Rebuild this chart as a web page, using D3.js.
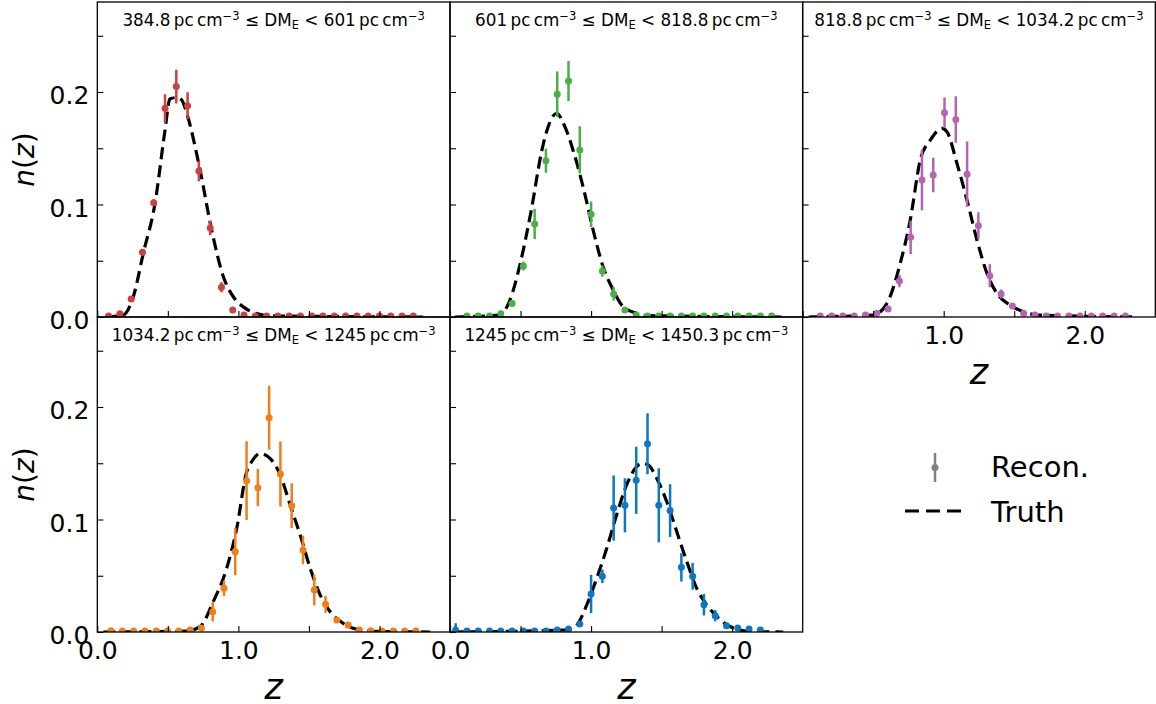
<!DOCTYPE html>
<html>
<head>
<meta charset="utf-8">
<script src="https://cdn.jsdelivr.net/npm/d3@7/dist/d3.min.js"></script>
<style>
  html, body { margin: 0; padding: 0; background: #fff; }
  svg { display: block; font-family: "DejaVu Sans", sans-serif; }
</style>
</head>
<body>
<svg id="chart" width="1156" height="704"></svg>
<script>
// ---- DM_E bin edges (pc cm^-3) for the five panels ----
const binLow  = ["384.8", "601", "818.8", "1034.2", "1245"];
const binHigh = ["601", "818.8", "1034.2", "1245", "1450.3"];
const colors  = ["#c94141", "#4bae48", "#b565ae", "#ef7e1b", "#0b78bf"];

// ---- reconstructed n(z): bin centres, values, 1-sigma errors ----
const zRecon1 = [0.08,0.16,0.24,0.32,0.40,0.48,0.56,0.64,0.72,0.80,0.88,0.96,1.04,1.12,1.20,1.28,1.36,1.44,1.52,1.60,1.68,1.76,1.84,1.92,2.00,2.08,2.16,2.24];
const nRecon1 = [0.001,0.003,0.016,0.0575,0.1016,0.1855,0.2048,0.1878,0.1298,0.0791,0.0264,0.0062,0.0018,0.0008,0.0008,0.0008,0.0008,0.0008,0.0008,0.0008,0.0008,0.0008,0.0008,0.0008,0.0008,0.0008,0.0008,0.0008];
const eRecon1 = [0,0,0.002,0.003,0.003,0.0126,0.015,0.012,0.0092,0.0064,0.0045,0.001,0,0,0,0,0,0,0,0,0,0,0,0,0,0,0,0];

const zRecon2 = [0.12,0.20,0.28,0.36,0.44,0.52,0.60,0.68,0.76,0.84,0.92,1.00,1.08,1.16,1.24,1.32,1.40,1.48,1.56,1.64,1.72,1.80,1.88,1.96,2.04,2.12,2.20,2.28];
const nRecon2 = [0.001,0.001,0.001,0.003,0.0121,0.0453,0.0827,0.139,0.1979,0.2098,0.1485,0.0913,0.0409,0.0205,0.0062,0.0018,0.0008,0.0008,0.0008,0.0008,0.0008,0.0008,0.0008,0.0008,0.0008,0.0008,0.0008,0.0008];
const eRecon2 = [0,0,0,0.001,0.002,0.004,0.0133,0.0108,0.0203,0.0178,0.021,0.0114,0.005,0.006,0.001,0,0,0,0,0,0,0,0,0,0,0,0,0];

const zRecon3 = [0.125,0.205,0.285,0.366,0.446,0.526,0.606,0.686,0.766,0.846,0.926,1.006,1.086,1.166,1.246,1.327,1.407,1.487,1.567,1.647,1.727,1.807,1.887,1.967,2.047,2.127,2.208,2.288];
const nRecon3 = [0.0008,0.0008,0.0008,0.0008,0.0018,0.0033,0.0071,0.032,0.0708,0.1218,0.1262,0.1815,0.1756,0.127,0.0812,0.0367,0.0205,0.0098,0.0033,0.0018,0.0008,0.0008,0.0008,0.0008,0.0008,0.0008,0.0008,0.0008];
const eRecon3 = [0,0,0,0,0,0.001,0.001,0.0055,0.0148,0.027,0.0153,0.0136,0.0207,0.0289,0.012,0.0102,0.004,0.002,0.001,0,0,0,0,0,0,0,0,0];

const zRecon4 = [0.097,0.177,0.258,0.338,0.418,0.498,0.578,0.658,0.738,0.818,0.898,0.978,1.058,1.138,1.218,1.298,1.378,1.458,1.538,1.618,1.698,1.778,1.858,1.938,2.018,2.098,2.178,2.258];
const nRecon4 = [0.0012,0.001,0.001,0.001,0.001,0.001,0.001,0.0018,0.0036,0.018,0.0388,0.0714,0.1345,0.1283,0.1905,0.1404,0.1123,0.0729,0.0373,0.0246,0.0107,0.0062,0.0018,0.0012,0.001,0.001,0.001,0.001];
const eRecon4 = [0,0,0,0,0,0,0,0,0.001,0.0086,0.0067,0.021,0.035,0.0166,0.0284,0.0289,0.02,0.0127,0.0136,0.0075,0.002,0.001,0,0,0,0,0,0];

const zRecon5 = [0.04,0.12,0.20,0.28,0.36,0.44,0.52,0.60,0.68,0.76,0.84,0.92,1.00,1.08,1.16,1.24,1.32,1.40,1.48,1.56,1.64,1.72,1.80,1.88,1.96,2.04,2.12,2.20];
const nRecon5 = [0.0018,0.001,0.001,0.001,0.001,0.001,0.001,0.001,0.001,0.0018,0.0027,0.0071,0.0338,0.0495,0.1102,0.1126,0.1348,0.1674,0.1126,0.1079,0.0575,0.0495,0.0243,0.0145,0.0056,0.0036,0.0027,0.0018];
const eRecon5 = [0.006,0,0,0,0,0,0,0,0,0,0.001,0.002,0.017,0.006,0.029,0.024,0.0298,0.0271,0.0329,0.0234,0.0126,0.0119,0.0096,0.005,0.002,0.001,0,0];

// ---- true n(z) ----
const zTruth1 = [0.055,0.184,0.255,0.326,0.409,0.48,0.515,0.563,0.598,0.634,0.728,0.811,0.893,0.964,1.035,1.13,1.224,2.31];
const nTruth1 = [0,0.0018,0.018,0.0566,0.101,0.166,0.194,0.195,0.193,0.181,0.131,0.077,0.036,0.018,0.009,0.003,0.001,0];
const zTruth2 = [0.035,0.354,0.425,0.496,0.579,0.65,0.685,0.756,0.815,0.874,0.945,1.016,1.087,1.157,1.228,1.323,1.394,2.362];
const nTruth2 = [0,0.0018,0.0151,0.0466,0.097,0.1476,0.165,0.1809,0.169,0.1476,0.115,0.0765,0.044,0.0239,0.0091,0.0033,0.0012,0];
const zTruth3 = [0.043,0.503,0.598,0.692,0.763,0.834,0.905,0.988,1.023,1.094,1.165,1.236,1.307,1.378,1.472,1.566,1.661,2.37];
const nTruth3 = [0,0.0018,0.0121,0.0477,0.0862,0.1396,0.1573,0.1676,0.1647,0.1366,0.104,0.0684,0.0388,0.0209,0.0105,0.0047,0.0018,0];
const zTruth4 = [0.043,0.634,0.728,0.822,0.917,0.988,1.059,1.094,1.153,1.226,1.297,1.368,1.439,1.51,1.581,1.652,1.746,1.841,1.959,2.36];
const nTruth4 = [0,0.0009,0.0047,0.027,0.0566,0.092,0.1425,0.1513,0.1587,0.1542,0.1393,0.1126,0.0859,0.0563,0.0326,0.0178,0.0074,0.0024,0.0006,0];
const zTruth5 = [0.012,0.827,0.898,0.969,1.04,1.111,1.181,1.252,1.323,1.359,1.405,1.465,1.536,1.607,1.678,1.748,1.819,1.89,1.961,2.055,2.15,2.362];
const nTruth5 = [0,0.0018,0.0062,0.024,0.0477,0.0744,0.104,0.1307,0.147,0.15,0.1485,0.1366,0.116,0.0893,0.0627,0.039,0.0243,0.0139,0.0065,0.0018,0.0003,0];

// ---- axis ticks ----
const xTicks = [0, 0.5, 1.0, 1.5, 2.0];
const xTickLabels = ["0.0", "", "1.0", "", "2.0"];
const yTicks = [0, 0.05, 0.10, 0.15, 0.20, 0.25];
const yTickLabels = ["0.0", "", "0.1", "", "0.2", ""];

// ---- panel layout ----
const colX = [97.3, 450, 802.6];
const rowY = [2, 317];
const W = 352.7, H = 315;

const panels = [
  {row: 0, col: 0, z: zRecon1, n: nRecon1, e: eRecon1, zt: zTruth1, nt: nTruth1, yLab: true,  xLab: false, xShow: []},
  {row: 0, col: 1, z: zRecon2, n: nRecon2, e: eRecon2, zt: zTruth2, nt: nTruth2, yLab: false, xLab: false, xShow: []},
  {row: 0, col: 2, z: zRecon3, n: nRecon3, e: eRecon3, zt: zTruth3, nt: nTruth3, yLab: false, xLab: true,  xShow: ["1.0", "2.0"]},
  {row: 1, col: 0, z: zRecon4, n: nRecon4, e: eRecon4, zt: zTruth4, nt: nTruth4, yLab: true,  xLab: true,  xShow: ["0.0", "1.0", "2.0"]},
  {row: 1, col: 1, z: zRecon5, n: nRecon5, e: eRecon5, zt: zTruth5, nt: nTruth5, yLab: false, xLab: true,  xShow: ["0.0", "1.0", "2.0"]}
];

const x = d3.scaleLinear().domain([0, 2.5]).range([0, W]);
const y = d3.scaleLinear().domain([0, 0.28]).range([H, 0]);

const svg = d3.select("#chart");
const defs = svg.append("defs");
defs.append("clipPath").attr("id", "plotClip")
  .append("rect").attr("x", 0).attr("y", 0).attr("width", W).attr("height", H);

const line = d3.line().x(d => x(d[0])).y(d => y(d[1])).curve(d3.curveMonotoneX);

panels.forEach((p, i) => {
  const g = svg.append("g").attr("transform", `translate(${colX[p.col]},${rowY[p.row]})`);
  const color = colors[i];

  const plot = g.append("g").attr("clip-path", "url(#plotClip)");

  // true distribution, dashed
  plot.append("path")
    .datum(p.zt.map((z, k) => [z, p.nt[k]]))
    .attr("d", line)
    .attr("fill", "none")
    .attr("stroke", "#000")
    .attr("stroke-width", 3.2)
    .attr("stroke-dasharray", "12,6");

  // reconstructed points with error bars
  const pts = p.z.map((z, k) => ({z: z, n: p.n[k], e: p.e[k]}));
  plot.selectAll("line.err").data(pts.filter(d => d.e > 0)).enter().append("line")
    .attr("class", "err")
    .attr("x1", d => x(d.z)).attr("x2", d => x(d.z))
    .attr("y1", d => y(d.n - d.e)).attr("y2", d => y(d.n + d.e))
    .attr("stroke", color).attr("stroke-width", 2.5);
  plot.selectAll("circle").data(pts).enter().append("circle")
    .attr("cx", d => x(d.z)).attr("cy", d => y(d.n)).attr("r", 3.5)
    .attr("fill", color);

  // y axis (inward ticks)
  const ya = g.append("g").call(
    d3.axisLeft(y).tickValues(yTicks).tickSize(-6).tickPadding(8)
      .tickFormat((v, k) => p.yLab ? yTickLabels[k] : ""));
  // x axis (inward ticks)
  const xa = g.append("g").attr("transform", `translate(0,${H})`).call(
    d3.axisBottom(x).tickValues(xTicks).tickSize(-6).tickPadding(9)
      .tickFormat((v, k) => p.xShow.includes(xTickLabels[k]) ? xTickLabels[k] : ""));
  [ya, xa].forEach(a => {
    a.select(".domain").remove();
    a.selectAll(".tick line").attr("stroke", "#000").attr("stroke-width", 1.1);
    a.selectAll(".tick text").attr("fill", "#000")
      .style("font-family", "'DejaVu Sans', sans-serif").style("font-size", "25px");
  });
  ya.selectAll(".tick text").attr("dy", "0.46em");

  // frame
  g.append("rect").attr("x", 0).attr("y", 0).attr("width", W).attr("height", H)
    .attr("fill", "none").attr("stroke", "#000").attr("stroke-width", 1.3);

  // bin title
  const t = g.append("text").attr("x", W / 2).attr("y", 24)
    .attr("text-anchor", "middle").attr("font-size", 16.8).attr("fill", "#000");
  t.append("tspan").text(binLow[i] + "\u2009pc\u2009cm");
  t.append("tspan").attr("dy", -6.5).attr("font-size", 11.5).text("\u22123");
  t.append("tspan").attr("dy", 6.5).text(" \u2264 DM");
  t.append("tspan").attr("dy", 3).attr("font-size", 11.5).text("E");
  t.append("tspan").attr("dy", -3).text(" < " + binHigh[i] + "\u2009pc\u2009cm");
  t.append("tspan").attr("dy", -6.5).attr("font-size", 11.5).text("\u22123");

  if (p.yLab) {
    g.append("text")
      .attr("transform", `translate(${34 - colX[p.col]},${H / 2}) rotate(-90)`)
      .attr("text-anchor", "middle").attr("font-size", 28)
      .html('<tspan font-style="italic">n</tspan>(<tspan font-style="italic">z</tspan>)');
  }
  if (p.xLab) {
    g.append("text").attr("x", W / 2).attr("y", H + 67)
      .attr("text-anchor", "middle").attr("font-size", 35).attr("font-style", "italic")
      .text("z");
  }
});

// legend
const leg = svg.append("g");
leg.append("line").attr("x1", 935).attr("x2", 935).attr("y1", 453).attr("y2", 482)
  .attr("stroke", "#808080").attr("stroke-width", 2.5);
leg.append("circle").attr("cx", 935).attr("cy", 467.5).attr("r", 3.5).attr("fill", "#808080");
leg.append("text").attr("x", 991).attr("y", 477).attr("font-size", 29).text("Recon.");
leg.append("line").attr("x1", 905).attr("x2", 966).attr("y1", 511).attr("y2", 511)
  .attr("stroke", "#000").attr("stroke-width", 3.2).attr("stroke-dasharray", "14,7");
leg.append("text").attr("x", 991).attr("y", 522).attr("font-size", 29).text("Truth");
</script>
</body>
</html>
